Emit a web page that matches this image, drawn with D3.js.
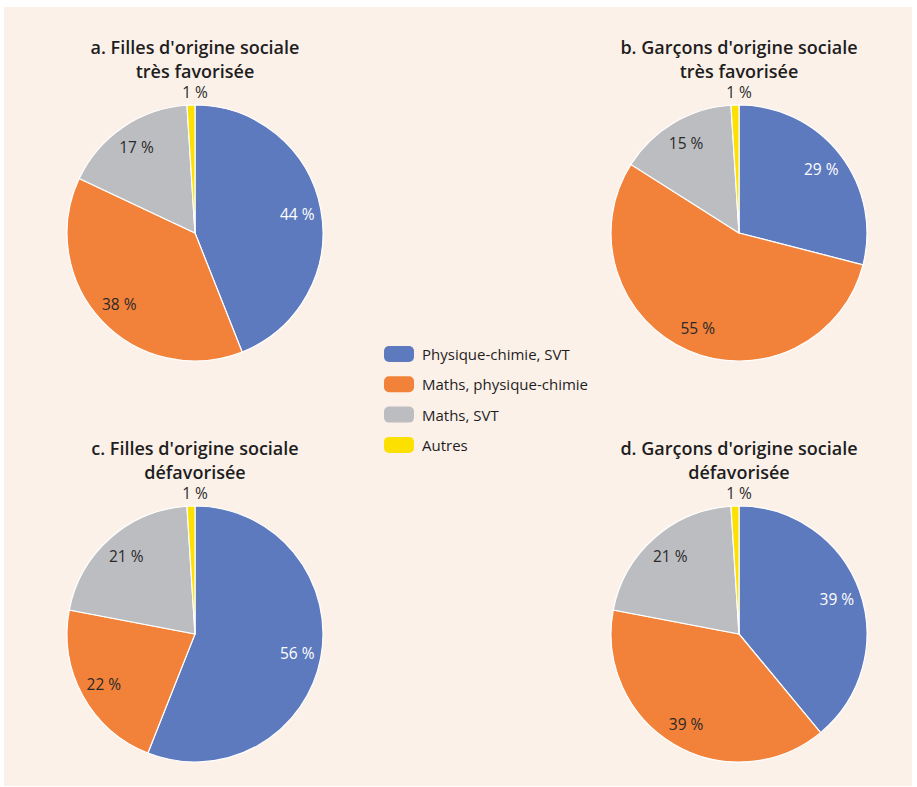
<!DOCTYPE html>
<html>
<head>
    <meta charset="utf-8">
    <title>Répartition des spécialités</title>
    <script src="https://cdnjs.cloudflare.com/ajax/libs/d3/7.8.5/d3.min.js"></script>
    <style>
        body {
            margin: 0;
            background-color: #ffffff;
            font-family: "Open Sans", "DejaVu Sans", sans-serif;
        }

        .title {
            font-size: 18px;
            font-weight: 600;
            fill: #1e1e1e;
        }

        .label {
            font-size: 15.5px;
        }

        .legend text {
            font-size: 15px;
            fill: #1e1e1e;
        }
    </style>
</head>

<body>
    <div id="chart"></div>

    <script>
        const categories = ["Physique-chimie, SVT", "Maths, physique-chimie", "Maths, SVT", "Autres"];
        const colors = ["#5e7abf", "#f2813a", "#bcbdc1", "#fbe000"];
        const labelColors = ["#ffffff", "#2a2a2a", "#2a2a2a", "#2a2a2a"];

        const titlesA = ["a. Filles d'origine sociale", "très favorisée"];
        const titlesB = ["b. Garçons d'origine sociale", "très favorisée"];
        const titlesC = ["c. Filles d'origine sociale", "défavorisée"];
        const titlesD = ["d. Garçons d'origine sociale", "défavorisée"];

        const valuesA = [44, 38, 17, 1];
        const valuesB = [29, 55, 15, 1];
        const valuesC = [56, 22, 21, 1];
        const valuesD = [39, 39, 21, 1];

        const width = 917, height = 787;
        const radius = 128;

        const svg = d3.select("#chart").append("svg")
            .attr("width", width)
            .attr("height", height);

        svg.append("rect")
            .attr("x", 4).attr("y", 7)
            .attr("width", 908).attr("height", 779)
            .attr("fill", "#fcf1e9");

        const pie = d3.pie().sort(null).value(d => d);
        const arc = d3.arc().innerRadius(0).outerRadius(radius);
        const labelArc = d3.arc().innerRadius(104).outerRadius(104);

        function drawPie(cx, cy, titles, values) {
            const g = svg.append("g").attr("transform", `translate(${cx},${cy})`);

            g.selectAll("text.title")
                .data(titles)
                .enter().append("text")
                .attr("class", "title")
                .attr("text-anchor", "middle")
                .attr("x", 0)
                .attr("y", (d, i) => -179 + i * 23.5)
                .text(d => d);

            const arcs = pie(values);

            g.selectAll("path")
                .data(arcs)
                .enter().append("path")
                .attr("d", arc)
                .attr("fill", (d, i) => colors[i])
                .attr("stroke", "#ffffff")
                .attr("stroke-width", 1.2);

            g.selectAll("text.label")
                .data(arcs)
                .enter().append("text")
                .attr("class", "label")
                .attr("text-anchor", "middle")
                .attr("dominant-baseline", "central")
                .attr("fill", (d, i) => labelColors[i])
                .attr("transform", (d, i) => {
                    if (i === 3) return `translate(0,${-radius - 13})`;
                    return `translate(${labelArc.centroid(d)})`;
                })
                .text(d => d.data + " %");
        }

        drawPie(195, 233, titlesA, valuesA);
        drawPie(739, 233, titlesB, valuesB);
        drawPie(195, 634, titlesC, valuesC);
        drawPie(739, 634, titlesD, valuesD);

        const legend = svg.append("g")
            .attr("class", "legend")
            .attr("transform", "translate(384,354)");

        const item = legend.selectAll("g")
            .data(categories)
            .enter().append("g")
            .attr("transform", (d, i) => `translate(0,${i * 30.3})`);

        item.append("rect")
            .attr("x", 0).attr("y", -8)
            .attr("width", 30).attr("height", 16)
            .attr("rx", 5)
            .attr("fill", (d, i) => colors[i]);

        item.append("text")
            .attr("x", 38)
            .attr("y", 0)
            .attr("dominant-baseline", "central")
            .text(d => d);
    </script>
</body>
</html>
